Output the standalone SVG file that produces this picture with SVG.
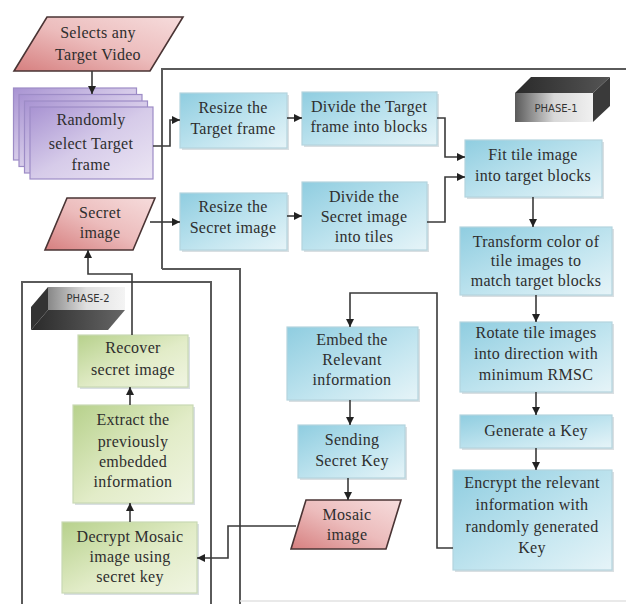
<svg xmlns="http://www.w3.org/2000/svg" width="626" height="604" viewBox="0 0 626 604">
<style>
.t text{font-size:16px;letter-spacing:0.3px;fill:#2e2e2e;text-anchor:middle}
.blue{fill:url(#gBlue);stroke:#b4d4de;stroke-width:1.2}
.green{fill:url(#gGreen);stroke:#c9d9b4;stroke-width:1.2}
.pink{fill:url(#gPink);stroke:#4a3434;stroke-width:1.6}
.shadow{fill:#c9d2d6;opacity:0.7}
.layer{fill:url(#gPurple);stroke:#9d8cc6;stroke-width:1.2}
.frame{fill:none;stroke:#5a5a5a;stroke-width:2}
.conn path{fill:none;stroke:#3a3a3a;stroke-width:1.6;marker-end:url(#ah)}
.lbl{font-size:10px;fill:#333;text-anchor:middle}
</style>
<defs>
<linearGradient id="gBlue" x1="0" y1="0" x2="1" y2="1"><stop offset="0" stop-color="#8fcde0"/><stop offset="0.6" stop-color="#c4e6f0"/><stop offset="1" stop-color="#e6f4f8"/></linearGradient>
<linearGradient id="gGreen" x1="0" y1="0" x2="1" y2="1"><stop offset="0" stop-color="#b7d18c"/><stop offset="0.55" stop-color="#e2ecc8"/><stop offset="1" stop-color="#f0f5e2"/></linearGradient>
<linearGradient id="gPink" x1="1" y1="0" x2="0" y2="1"><stop offset="0" stop-color="#f6dcdc"/><stop offset="0.5" stop-color="#ecbcbc"/><stop offset="1" stop-color="#d67f7f"/></linearGradient>
<linearGradient id="gPurple" x1="0" y1="0" x2="1" y2="1"><stop offset="0" stop-color="#a893d2"/><stop offset="0.5" stop-color="#d6cbe9"/><stop offset="1" stop-color="#ece6f4"/></linearGradient>
<linearGradient id="gFace" x1="0" y1="0" x2="1" y2="0"><stop offset="0" stop-color="#5a5a5a"/><stop offset="0.5" stop-color="#d8d8d8"/><stop offset="1" stop-color="#f0f0f0"/></linearGradient>
<linearGradient id="gTop" x1="0" y1="0" x2="1" y2="0"><stop offset="0" stop-color="#2a2a2a"/><stop offset="1" stop-color="#555"/></linearGradient>
<linearGradient id="gFace2" x1="0" y1="0" x2="1" y2="0"><stop offset="0" stop-color="#888"/><stop offset="0.5" stop-color="#e0e0e0"/><stop offset="1" stop-color="#f4f4f4"/></linearGradient>
<linearGradient id="gBottom2" x1="0" y1="0" x2="1" y2="0"><stop offset="0" stop-color="#2a2a2a"/><stop offset="1" stop-color="#666"/></linearGradient>
<marker id="ah" viewBox="0 0 8 8" markerWidth="8" markerHeight="8" refX="8" refY="4" orient="auto" markerUnits="userSpaceOnUse"><path d="M0,0 L8,4 L0,8 z" fill="#222"/></marker>
</defs>

<g id="frames">
<path class="frame" d="M162,269 V69 H626 M162,269 H240 V604"/>
<path class="frame" d="M22,604 V282 H211 V604"/>
<path d="M240,601 H626" stroke="#e2e2e2" stroke-width="1.5" fill="none"/>
</g>

<g id="phase1-label" font-family="'DejaVu Sans', 'Liberation Sans', sans-serif">
<polygon points="515,93 531,77 610,77 593,93" fill="url(#gTop)"/>
<polygon points="593,93 610,77 610,106 593,122" fill="#3a3a3a"/>
<rect x="515" y="93" width="78" height="29" fill="url(#gFace)"/>
<text class="lbl" x="556" y="112">PHASE-1</text>
</g>

<g id="phase2-label" font-family="'DejaVu Sans', 'Liberation Sans', sans-serif">
<polygon points="48,287 31,307 31,330 48,310" fill="#333"/>
<polygon points="48,310 125,310 108,330 31,330" fill="url(#gBottom2)"/>
<rect x="48" y="287" width="77" height="23" fill="url(#gFace2)"/>
<text class="lbl" x="88" y="302">PHASE-2</text>
</g>

<g class="t" font-family="'Liberation Serif', 'DejaVu Serif', serif">
<g id="n-video">
<polygon class="pink" points="47,17 183,17 150,71 14,71"/>
<text x="98" y="38">Selects any</text>
<text x="98" y="60">Target Video</text>
</g>

<g id="n-frame">
<rect class="layer" x="13.5" y="88" width="123" height="72"/>
<rect class="layer" x="19" y="94.5" width="123" height="72"/>
<rect class="layer" x="24.5" y="101" width="123" height="72"/>
<rect class="layer" x="30" y="107" width="123" height="72" stroke="#8f7dbd"/>
<text x="91" y="125">Randomly</text>
<text x="91" y="149">select Target</text>
<text x="91" y="170">frame</text>
</g>

<g id="n-resize-target">
<rect class="shadow" x="182" y="95" width="107" height="55"/>
<rect class="blue" x="180" y="93" width="107" height="55"/>
<text x="233" y="113">Resize the</text>
<text x="233" y="134">Target frame</text>
</g>

<g id="n-divide-target">
<rect class="shadow" x="304" y="94" width="135" height="53"/>
<rect class="blue" x="302" y="92" width="135" height="53"/>
<text x="369" y="112">Divide the Target</text>
<text x="369" y="132">frame into blocks</text>
</g>

<g id="n-secret">
<polygon class="pink" points="67,198 155,198 133,250 45,250"/>
<text x="100" y="218">Secret</text>
<text x="100" y="238">image</text>
</g>

<g id="n-resize-secret">
<rect class="shadow" x="182" y="195" width="107" height="57"/>
<rect class="blue" x="180" y="193" width="107" height="57"/>
<text x="233" y="212">Resize the</text>
<text x="233" y="233">Secret image</text>
</g>

<g id="n-divide-secret">
<rect class="shadow" x="304" y="184" width="125" height="68"/>
<rect class="blue" x="302" y="182" width="125" height="68"/>
<text x="364" y="202">Divide the</text>
<text x="364" y="222">Secret image</text>
<text x="364" y="242">into tiles</text>
</g>

<g id="n-fit">
<rect class="shadow" x="467" y="142" width="137" height="57"/>
<rect class="blue" x="465" y="140" width="137" height="57"/>
<text x="533" y="160">Fit tile image</text>
<text x="533" y="181">into target blocks</text>
</g>

<g id="n-transform">
<rect class="shadow" x="462" y="229" width="152" height="68"/>
<rect class="blue" x="460" y="227" width="152" height="68"/>
<text x="536" y="247">Transform color of</text>
<text x="536" y="266">tile images to</text>
<text x="536" y="286">match target blocks</text>
</g>

<g id="n-rotate">
<rect class="shadow" x="462" y="324" width="152" height="70"/>
<rect class="blue" x="460" y="322" width="152" height="70"/>
<text x="536" y="338">Rotate tile images</text>
<text x="536" y="359">into direction with</text>
<text x="536" y="380">minimum RMSC</text>
</g>

<g id="n-generate">
<rect class="shadow" x="462" y="417" width="152" height="33"/>
<rect class="blue" x="460" y="415" width="152" height="33"/>
<text x="536" y="436">Generate a Key</text>
</g>

<g id="n-encrypt">
<rect class="shadow" x="455" y="472" width="159" height="100"/>
<rect class="blue" x="453" y="470" width="159" height="100"/>
<text x="532" y="488">Encrypt the relevant</text>
<text x="532" y="510">information with</text>
<text x="532" y="532">randomly generated</text>
<text x="532" y="553">Key</text>
</g>

<g id="n-embed">
<rect class="shadow" x="289" y="329" width="131" height="73"/>
<rect class="blue" x="287" y="327" width="131" height="73"/>
<text x="352" y="345">Embed the</text>
<text x="352" y="365">Relevant</text>
<text x="352" y="385">information</text>
</g>

<g id="n-sending">
<rect class="shadow" x="300" y="427" width="107" height="53"/>
<rect class="blue" x="298" y="425" width="107" height="53"/>
<text x="352" y="445">Sending</text>
<text x="352" y="466">Secret Key</text>
</g>

<g id="n-mosaic">
<polygon class="pink" points="306,500 401,500 386,549 291,549"/>
<text x="347" y="520">Mosaic</text>
<text x="347" y="540">image</text>
</g>

<g id="n-recover">
<rect class="shadow" x="80" y="337" width="110" height="52"/>
<rect class="green" x="78" y="335" width="110" height="52"/>
<text x="133" y="353">Recover</text>
<text x="133" y="375">secret image</text>
</g>

<g id="n-extract">
<rect class="shadow" x="75" y="407" width="120" height="98"/>
<rect class="green" x="73" y="405" width="120" height="98"/>
<text x="133" y="425">Extract the</text>
<text x="133" y="447">previously</text>
<text x="133" y="467">embedded</text>
<text x="133" y="487">information</text>
</g>

<g id="n-decrypt">
<rect class="shadow" x="64" y="524" width="135" height="71"/>
<rect class="green" x="62" y="522" width="135" height="71"/>
<text x="130" y="542">Decrypt Mosaic</text>
<text x="130" y="562">image using</text>
<text x="130" y="582">secret key</text>
</g>
</g>

<g id="connectors" class="conn">
<path d="M92,71 V94"/>
<path d="M153,146 H170 V120 H180"/>
<path d="M287,118 H302"/>
<path d="M437,118 H445 V157 H465"/>
<path d="M150,222 H180"/>
<path d="M287,216 H302"/>
<path d="M427,222 H445 V177 H465"/>
<path d="M533,197 V227"/>
<path d="M536,295 V322"/>
<path d="M536,392 V415"/>
<path d="M536,448 V470"/>
<path d="M453,548 H437 V293 H350 V327"/>
<path d="M350,400 V425"/>
<path d="M348,478 V500"/>
<path d="M296,526 H228 V558 H197"/>
<path d="M130,522 V503"/>
<path d="M130,405 V387"/>
<path d="M132,335 V274 H88 V250"/>
</g>
</svg>
